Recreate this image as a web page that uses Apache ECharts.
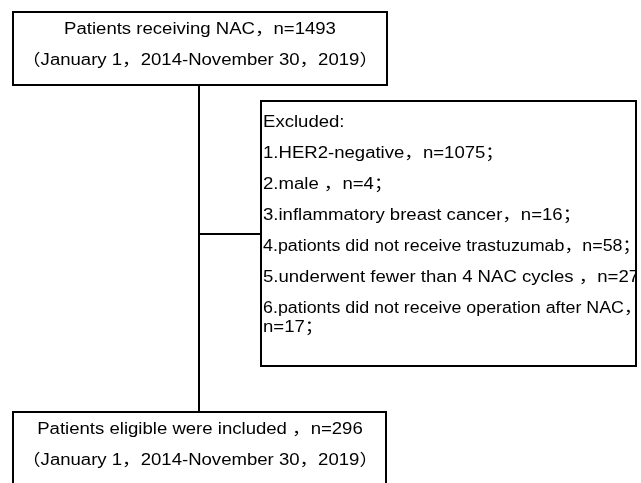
<!DOCTYPE html>
<html>
<head>
<meta charset="utf-8">
<script src="https://cdn.jsdelivr.net/npm/echarts@6/dist/echarts.min.js"></script>
<style>html,body{margin:0;padding:0;background:#fff;}#c{width:641px;height:483px;}</style>
</head>
<body>
<div id="c"></div>
<script>
// Text content of the flow chart
var topBoxLines = ["Patients receiving NAC，n=1493", "（January 1，2014-November 30，2019）"];
var excludedLines = [
  "Excluded:",
  "1.HER2-negative，n=1075；",
  "2.male ，n=4；",
  "3.inflammatory breast cancer，n=16；",
  "4.pationts did not receive trastuzumab，n=58；",
  "5.underwent fewer than 4 NAC cycles ，n=27；",
  "6.pationts did not receive operation after NAC，",
  "n=17；"
];
var bottomBoxLines = ["Patients eligible were included ，n=296", "（January 1，2014-November 30，2019）"];

var FONT = '16px "Liberation Sans", Arial, "Noto Sans CJK SC", sans-serif';
var chart = echarts.init(document.getElementById('c'), null, {renderer: 'canvas'});
var els = [];
function box(x, y, w, h) {
  els.push({type: 'rect', shape: {x: x, y: y, width: w, height: h},
    style: {fill: 'none', stroke: '#000', lineWidth: 2}});
}
function line(x1, y1, x2, y2) {
  els.push({type: 'line', shape: {x1: x1, y1: y1, x2: x2, y2: y2},
    style: {stroke: '#000', lineWidth: 2}});
}
function text(t, x, y, align, sx) {
  els.push({type: 'text', x: x, y: y, scaleX: sx,
    style: {text: t, font: FONT, fill: '#000', align: align, verticalAlign: 'middle'}});
}
// connectors
line(199, 85, 199, 412);
line(199, 234, 261, 234);
// texts (horizontally stretched like the source image)
topBoxLines.forEach(function (t, i) { text(t, 200, 30 + i * 31, 'center', 1.16); });
excludedLines.forEach(function (t, i) {
  var sx = /did not/.test(t) ? 1.115 : 1.16;
  text(t, 263, i < 7 ? 123 + i * 31 : 328, 'left', sx);
});
bottomBoxLines.forEach(function (t, i) { text(t, 200, 430 + i * 31, 'center', 1.16); });
// mask anything running past the right edge of the excluded box
els.push({type: 'rect', shape: {x: 636, y: 95, width: 10, height: 280}, style: {fill: '#fff'}});
// boxes
box(13, 12, 374, 73);
box(261, 101, 375, 265);
box(13, 412, 373, 80);
chart.setOption({backgroundColor: '#fff', graphic: {elements: els}});
</script>
</body>
</html>
